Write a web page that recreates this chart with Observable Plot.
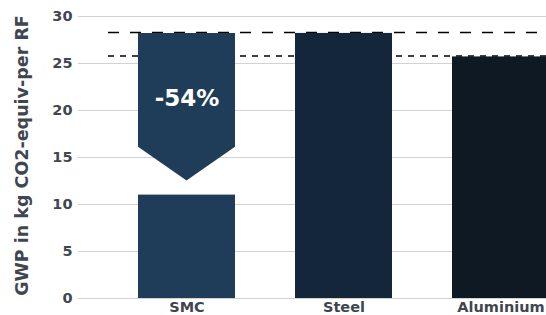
<!DOCTYPE html>
<html>
<head>
<meta charset="utf-8">
<script src="https://cdn.jsdelivr.net/npm/d3@7"></script>
<script src="https://cdn.jsdelivr.net/npm/@observablehq/plot@0.6"></script>
<style>
  html, body { margin: 0; padding: 0; overflow: hidden; background: white; }
  svg { overflow: hidden; }
</style>
</head>
<body>
<div id="chart"></div>
<script>
const categories = ["SMC", "Steel", "Aluminium"];
const values = [11, 28.2, 25.7];
const colors = ["#1f3d58", "#13263a", "#0f1923"];
const refLines = [28.3, 25.8];
// SMC "before" ghost shape: top, bottom of sides, arrow tip
const ghostTop = 28.2, ghostSide = 16.1, ghostTip = 12.5;
const changeLabel = "-54%";
const changeLabelY = 21.3;
const yTicks = [0, 5, 10, 15, 20, 25, 30];
const yLabel = "GWP in kg CO2-equiv-per RF";

const data = categories.map((c, i) => ({cat: c, value: values[i], color: colors[i]}));

function ghostMark(index, scales, vals, dims, context) {
  const sx = scales.x, sy = scales.y;
  const bw = typeof sx.bandwidth === "function" ? sx.bandwidth() : sx.bandwidth;
  const x0 = sx(categories[0]), x1 = x0 + bw, xm = x0 + bw / 2;
  const pts = [[x0, sy(ghostTop)], [x1, sy(ghostTop)], [x1, sy(ghostSide)], [xm, sy(ghostTip)], [x0, sy(ghostSide)]];
  const g = document.createElementNS("http://www.w3.org/2000/svg", "path");
  g.setAttribute("d", "M" + pts.map(p => p.join(",")).join("L") + "Z");
  g.setAttribute("fill", colors[0]);
  return g;
}

const chart = Plot.plot({
  width: 546,
  height: 315,
  marginLeft: 78,
  marginRight: 0,
  marginTop: 16,
  marginBottom: 17,
  style: {fontFamily: "DejaVu Sans", fontWeight: "bold", color: "#3f4650", background: "white", overflow: "hidden"},
  x: {domain: categories, range: [77.5, 610], padding: 0.384},
  y: {domain: [0, 30]},
  marks: [
    Plot.gridY(yTicks, {stroke: "#d2d2d2", strokeOpacity: 1, strokeWidth: 1}),
    Plot.ruleY([refLines[0]], {stroke: "black", strokeWidth: 1.5, strokeDasharray: "11,11", insetLeft: 30}),
    Plot.ruleY([refLines[1]], {stroke: "black", strokeWidth: 1.5, strokeDasharray: "6,6", insetLeft: 30}),
    ghostMark,
    Plot.barY(data, {x: "cat", y: "value", fill: "color"}),
    Plot.text([changeLabel], {x: () => categories[0], y: () => changeLabelY, text: d => d, fill: "white", fontSize: 23, fontWeight: "bold"}),
    Plot.axisY({ticks: yTicks, tickSize: 0, tickPadding: 6, fontSize: 14.5, label: null}),
    Plot.axisX({tickSize: 0, tickPadding: 3, fontSize: 14.5, label: null}),
    Plot.text([yLabel], {frameAnchor: "left", textAnchor: "middle", dx: -56, dy: -2, rotate: -90, fontSize: 17.5, fontWeight: "bold", fill: "#3f4650"})
  ]
});
document.getElementById("chart").appendChild(chart);
</script>
</body>
</html>
